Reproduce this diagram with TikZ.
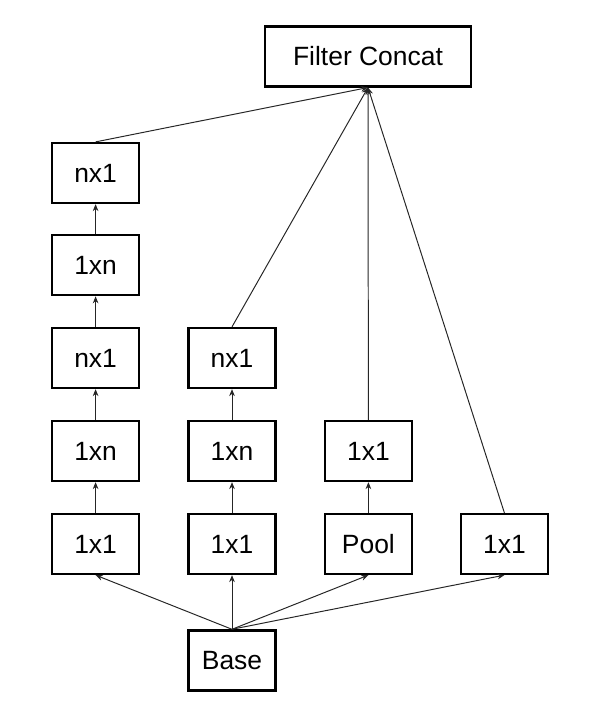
\documentclass[tikz,border=0pt]{standalone}
\usepackage{fontspec}
\setmainfont{Liberation Sans}
\usetikzlibrary{arrows.meta,positioning}

\begin{document}
\begin{tikzpicture}[
    >={Stealth[length=5pt,width=4pt]},
    font=\fontsize{18.8}{22}\selectfont,
    box/.style={
        draw=black,
        line width=1.6pt,
        minimum width=2.18cm,
        minimum height=1.5cm,
        align=center,
        fill=white
    },
    wide/.style={
        box,
        minimum width=5.15cm
    },
    arr/.style={->, line width=0.7pt, draw=black!85}
]

\useasboundingbox (0,0) rectangle (14.95,-17.8);

\node[wide] (concat) at (9.2,-1.41) {Filter Concat};

% first column
\node[box] (a1) at (2.39,-13.6) {1x1};
\node[box] (a2) at (2.39,-11.275) {1xn};
\node[box] (a3) at (2.39,-8.95) {nx1};
\node[box] (a4) at (2.39,-6.63) {1xn};
\node[box] (a5) at (2.39,-4.325) {nx1};

% second column
\node[box] (b1) at (5.8,-13.6) {1x1};
\node[box] (b2) at (5.8,-11.275) {1xn};
\node[box] (b3) at (5.8,-8.95) {nx1};

% pool column
\node[box] (pool) at (9.21,-13.6) {Pool};
\node[box] (c2) at (9.21,-11.275) {1x1};

\node[box] (d1) at (12.61,-13.6) {1x1};

\node[box] (base) at (5.8,-16.51) {Base};

\draw[arr] (base.north) -- (a1.south);
\draw[arr] (base.north) -- (b1.south);
\draw[arr] (base.north) -- (pool.south);
\draw[arr] (base.north) -- (d1.south);

\draw[arr] (a1) -- (a2);
\draw[arr] (a2) -- (a3);
\draw[arr] (a3) -- (a4);
\draw[arr] (a4) -- (a5);
\draw[arr] (b1) -- (b2);
\draw[arr] (b2) -- (b3);
\draw[arr] (pool) -- (c2);

\draw[arr] (a5.north) -- (concat.south);
\draw[arr] (b3.north) -- (concat.south);
\draw[arr] (c2.north) -- (concat.south);
\draw[arr] (d1.north) -- (concat.south);

\end{tikzpicture}
\end{document}
